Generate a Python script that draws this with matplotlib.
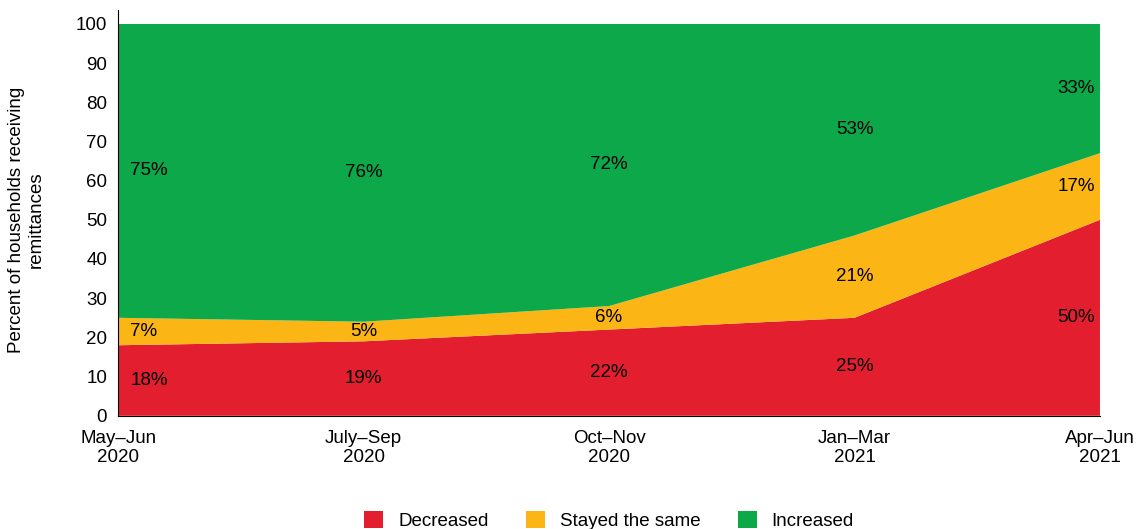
import matplotlib.pyplot as plt
import numpy as np

periods = ["May\u2013Jun\n2020", "July\u2013Sep\n2020", "Oct\u2013Nov\n2020", "Jan\u2013Mar\n2021", "Apr\u2013Jun\n2021"]
decreased = [18, 19, 22, 25, 50]
stayed = [7, 5, 6, 21, 17]
increased = [75, 76, 72, 53, 33]

names = ["Decreased", "Stayed the same", "Increased"]
colors = ["#E31F2F", "#FBB515", "#0DA84A"]

plt.rcParams['font.family'] = ['Liberation Sans', 'DejaVu Sans']

fig = plt.figure(figsize=(11.47, 5.29), dpi=100)
ax = fig.add_axes([0.103, 0.214, 0.856, 0.741])

x = np.arange(len(periods))
# rounded shares don't always add to 100; the green band fills to the top
inc_fill = [100 - d - s for d, s in zip(decreased, stayed)]
ax.stackplot(x, [decreased, stayed, inc_fill], colors=colors, labels=names, linewidth=0)

base = np.zeros(len(x))
for s, fill in [(decreased, decreased), (stayed, stayed), (increased, inc_fill)]:
    fill = np.array(fill)
    mids = base + fill / 2
    for i, (v, m) in enumerate(zip(s, mids)):
        if i == 0:
            xi, ha = x[i] + 0.05, 'left'
        elif i == len(x) - 1:
            xi, ha = x[i] - 0.02, 'right'
        else:
            xi, ha = x[i], 'center'
        ax.text(xi, m, f"{v}%", ha=ha, va='center', fontsize=13.5)
    base = base + fill

ax.set_xlim(0, len(x) - 1)
ax.set_ylim(0, 100)
ax.set_yticks(range(0, 101, 10))
ax.set_xticks(x)
ax.set_xticklabels(periods)
ax.tick_params(labelsize=13.5, length=0)
ax.tick_params(axis='x', pad=10)
ax.tick_params(axis='y', pad=8)
ax.spines['top'].set_visible(False)
ax.spines['right'].set_visible(False)
ax.spines['left'].set_bounds(0, 103.5)
ax.spines['left'].set_clip_on(False)
ax.set_ylabel("Percent of households receiving\nremittances", fontsize=13.5, labelpad=22)

ax.legend(loc='upper center', bbox_to_anchor=(0.5, -0.2), ncol=3, frameon=False,
          fontsize=13.5, handlelength=1.0, handleheight=1.0, columnspacing=2.0)

fig.savefig("out.png", dpi=100)
